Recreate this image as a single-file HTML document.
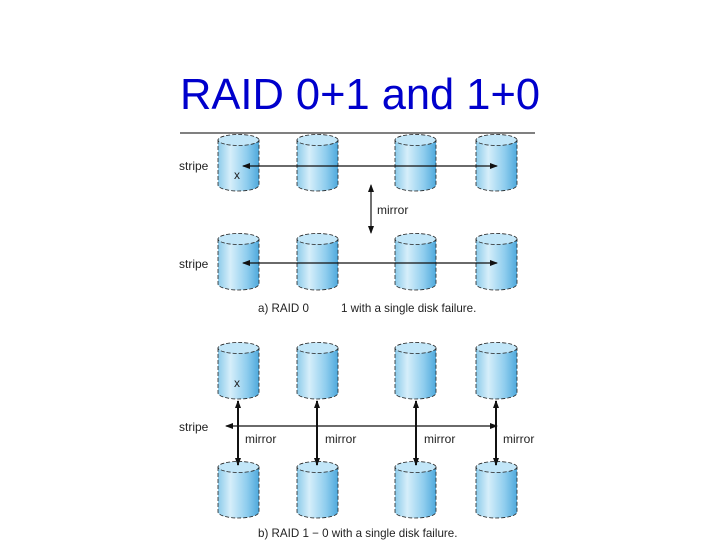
<!DOCTYPE html>
<html><head><style>
html,body{margin:0;padding:0;background:#fff;}
svg{display:block;font-family:"Liberation Sans",Arial,sans-serif;}
</style></head><body>
<svg width="720" height="540" viewBox="0 0 720 540">
<defs>
<linearGradient id="g" x1="0" x2="1" y1="0" y2="0">
<stop offset="0" stop-color="#8ccbea"/>
<stop offset="0.3" stop-color="#d6eefa"/>
<stop offset="0.7" stop-color="#8fcdee"/>
<stop offset="1" stop-color="#4fa9dc"/>
</linearGradient>
<g id="cyl">
<path d="M0,6 L0,51 A20.5,6 0 0 0 41,51 L41,6 Z" fill="url(#g)" stroke="#222" stroke-width="0.8" stroke-dasharray="4,2"/>
<ellipse cx="20.5" cy="6" rx="20.5" ry="5.5" fill="#c2e6f8" stroke="#222" stroke-width="0.8" stroke-dasharray="4,2"/>
</g>
<marker id="a" markerWidth="8" markerHeight="6" refX="7" refY="3" orient="auto-start-reverse" markerUnits="userSpaceOnUse">
<path d="M0,0 L8,3 L0,6 Z" fill="#111"/>
</marker>
</defs>
<text x="180" y="109" font-size="44" fill="#0000cc" textLength="360" lengthAdjust="spacingAndGlyphs">RAID 0+1 and 1+0</text>
<line x1="180" y1="133" x2="535" y2="133" stroke="#000" stroke-width="1"/>
<g>
<use href="#cyl" x="218" y="134"/><use href="#cyl" x="297" y="134"/><use href="#cyl" x="395" y="134"/><use href="#cyl" x="476" y="134"/>
<use href="#cyl" x="218" y="233"/><use href="#cyl" x="297" y="233"/><use href="#cyl" x="395" y="233"/><use href="#cyl" x="476" y="233"/>
<use href="#cyl" x="218" y="342"/><use href="#cyl" x="297" y="342"/><use href="#cyl" x="395" y="342"/><use href="#cyl" x="476" y="342"/>
<use href="#cyl" x="218" y="461"/><use href="#cyl" x="297" y="461"/><use href="#cyl" x="395" y="461"/><use href="#cyl" x="476" y="461"/>
</g>
<g stroke="#111" stroke-width="1.2" fill="none">
<line x1="243" y1="166" x2="497" y2="166" marker-start="url(#a)" marker-end="url(#a)"/>
<line x1="243" y1="263" x2="497" y2="263" marker-start="url(#a)" marker-end="url(#a)"/>
<line x1="371" y1="185" x2="371" y2="233" marker-start="url(#a)" marker-end="url(#a)"/>
<line x1="226" y1="426" x2="497" y2="426" marker-start="url(#a)" marker-end="url(#a)"/>
</g>
<g stroke="#111" stroke-width="2" fill="none">
<line x1="238" y1="401" x2="238" y2="465" marker-start="url(#a)" marker-end="url(#a)"/>
<line x1="317" y1="401" x2="317" y2="465" marker-start="url(#a)" marker-end="url(#a)"/>
<line x1="416" y1="401" x2="416" y2="465" marker-start="url(#a)" marker-end="url(#a)"/>
<line x1="496" y1="401" x2="496" y2="465" marker-start="url(#a)" marker-end="url(#a)"/>
</g>
<g font-size="12" fill="#222">
<text x="179" y="170">stripe</text>
<text x="179" y="268">stripe</text>
<text x="179" y="431">stripe</text>
<text x="234" y="179">x</text>
<text x="234" y="387">x</text>
<text x="377" y="214">mirror</text>
<text x="245" y="443">mirror</text>
<text x="325" y="443">mirror</text>
<text x="424" y="443">mirror</text>
<text x="503" y="443">mirror</text>
<text x="258" y="312" font-size="11.6">a) RAID 0</text>
<text x="341" y="312" font-size="11.6">1 with a single disk failure.</text>
<text x="258" y="537" font-size="11.6">b) RAID 1 − 0 with a single disk failure.</text>
</g>
</svg>
</body></html>
